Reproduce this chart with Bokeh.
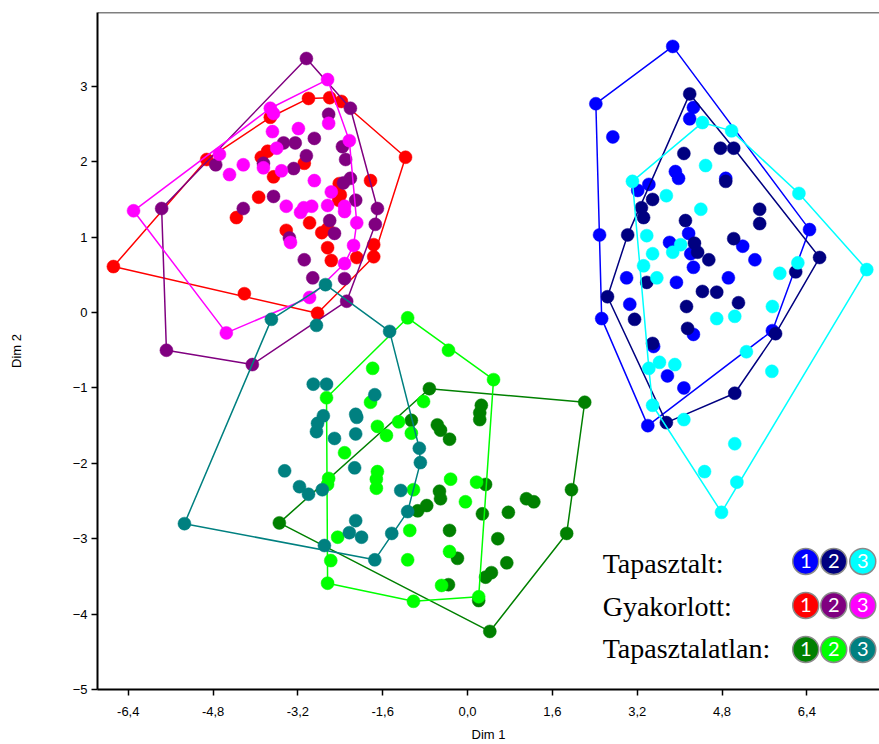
import numpy as np
from bokeh.plotting import figure
from bokeh.models import Range1d, FixedTicker, CustomJSTickFormatter, Span, Label
from bokeh.core.properties import value
from bokeh.embed import file_html
from bokeh.resources import INLINE

# ---------------- data ----------------
t1_x = [3.87, 2.42, 2.74, 4.26, 4.19, 3.92, 3.98, 4.87, 3.42, 3.21, 2.49, 4.17, 3.81, 4.21, 5.19, 5.42, 6.45, 4.26, 3.00, 3.94, 4.92, 3.06, 2.53, 4.26, 3.51, 3.77, 4.08, 3.40, 5.75]
t1_y = [3.53, 2.77, 2.33, 2.72, 2.57, 1.87, 1.78, 1.78, 1.70, 1.62, 1.03, 1.05, 0.93, 0.78, 0.88, 0.70, 1.10, 0.60, 0.46, 0.40, 0.46, 0.11, -0.08, -0.29, -0.45, -0.84, -1.00, -1.50, -0.24]

t2_x = [4.19, 4.08, 4.77, 5.02, 4.87, 3.49, 3.28, 3.32, 3.02, 4.11, 5.51, 5.51, 4.28, 4.34, 4.55, 5.02, 6.64, 6.19, 3.38, 4.43, 4.70, 5.11, 4.13, 2.64, 3.15, 4.15, 3.49, 5.81, 5.04, 3.75]
t2_y = [2.90, 2.11, 2.18, 2.18, 1.74, 1.50, 1.39, 1.26, 1.03, 1.22, 1.37, 1.18, 0.92, 0.80, 0.70, 0.98, 0.73, 0.54, 0.40, 0.28, 0.27, 0.13, 0.08, 0.21, -0.09, -0.21, -0.41, -0.28, -1.07, -1.46]

t3_x = [4.43, 4.98, 3.11, 4.49, 3.75, 4.40, 6.25, 3.38, 3.49, 4.02, 3.87, 3.32, 3.57, 7.53, 6.23, 5.89, 5.75, 4.70, 5.04, 5.26, 5.74, 3.42, 3.62, 3.91, 3.49, 4.08, 5.04, 4.47, 5.08, 4.79]
t3_y = [2.52, 2.41, 1.74, 1.95, 1.55, 1.37, 1.58, 1.02, 0.78, 0.90, 0.80, 0.62, 0.46, 0.57, 0.66, 0.52, 0.08, -0.08, -0.05, -0.52, -0.78, -0.74, -0.66, -0.69, -1.23, -1.42, -1.74, -2.11, -2.25, -2.65]

g1_x = [-3.00, -2.60, -2.38, -3.72, -4.92, -3.77, -3.89, -3.08, -3.66, -1.83, -1.17, -2.42, -2.40, -2.43, -3.94, -4.36, -2.98, -2.75, -2.64, -3.42, -2.64, -2.57, -2.09, -1.77, -1.77, -4.21, -2.83, -6.68]
g1_y = [2.84, 2.85, 2.80, 2.59, 2.03, 2.14, 2.06, 1.98, 1.80, 1.75, 2.06, 1.71, 1.56, 1.49, 1.53, 1.26, 1.19, 1.06, 1.11, 1.09, 0.86, 0.69, 0.73, 0.90, 0.74, 0.25, -0.01, 0.61]

g2_x = [-3.04, -2.21, -2.62, -3.47, -3.25, -2.89, -3.04, -3.28, -2.36, -2.30, -2.34, -2.21, -4.75, -3.85, -3.66, -4.23, -5.77, -2.11, -1.70, -1.74, -2.60, -2.51, -3.36, -3.08, -2.92, -2.32, -2.28, -5.68, -4.06]
g2_y = [3.37, 2.71, 2.63, 2.25, 2.25, 2.31, 2.08, 1.91, 2.20, 2.03, 1.72, 1.78, 1.96, 1.98, 1.54, 1.38, 1.38, 1.49, 1.38, 1.17, 1.22, 1.05, 0.99, 0.70, 0.46, 0.45, 0.15, -0.50, -0.69]

g3_x = [-2.64, -3.72, -3.66, -3.68, -3.19, -3.60, -3.85, -3.51, -4.23, -4.49, -4.68, -2.89, -2.62, -2.23, -2.57, -3.42, -3.15, -3.09, -2.94, -2.64, -2.32, -2.32, -2.09, -3.34, -2.15, -2.32, -2.98, -6.30, -4.55]
g3_y = [3.09, 2.71, 2.64, 2.40, 2.44, 2.18, 1.92, 1.88, 1.96, 1.83, 2.10, 1.75, 2.51, 2.28, 1.60, 1.41, 1.33, 1.39, 1.41, 1.42, 1.41, 1.34, 1.19, 0.93, 0.89, 0.65, 0.20, 1.35, -0.27]

u1_x = [-0.72, 2.21, -1.06, -0.57, -0.51, -0.34, 0.26, 0.23, 0.23, 0.34, -0.53, -0.51, -0.77, -0.94, 0.28, 0.77, 1.11, 1.25, 1.96, 1.87, -0.34, 0.57, -0.19, 0.74, 0.34, 0.45, -0.36, 0.21, 0.42, -3.55]
u1_y = [-1.01, -1.19, -1.43, -1.49, -1.56, -1.68, -1.23, -1.33, -1.42, -2.28, -2.37, -2.47, -2.56, -2.63, -2.67, -2.65, -2.47, -2.51, -2.35, -2.93, -2.89, -3.00, -3.26, -3.32, -3.51, -3.45, -3.61, -3.82, -4.23, -2.79]

u2_x = [-1.13, -0.36, 0.49, -1.79, -2.66, -1.83, -1.70, -1.53, -1.30, -1.06, -0.83, -2.32, -2.62, -2.64, -1.70, -1.72, -1.72, -1.02, -0.32, 0.17, -0.04, -2.45, -1.09, -0.34, -2.58, -1.13, -0.49, -2.64, -1.02, 0.21]
u2_y = [-0.07, -0.50, -0.89, -0.74, -1.13, -1.19, -1.51, -1.63, -1.45, -1.60, -1.18, -1.86, -2.20, -2.28, -2.11, -2.21, -2.33, -2.35, -2.21, -2.25, -2.51, -2.98, -2.89, -3.17, -3.29, -3.28, -3.62, -3.59, -3.83, -3.77]

u3_x = [-2.68, -3.70, -2.85, -1.47, -2.91, -2.66, -1.75, -2.72, -2.83, -2.85, -2.11, -2.09, -2.51, -2.11, -0.91, -0.89, -3.45, -3.17, -3.00, -2.74, -2.13, -1.26, -1.13, -5.34, -2.11, -2.23, -2.00, -2.70, -1.43, -1.75]
u3_y = [0.37, -0.09, -0.17, -0.25, -0.95, -0.95, -1.09, -1.37, -1.47, -1.58, -1.35, -1.39, -1.67, -1.61, -1.80, -1.99, -2.10, -2.31, -2.41, -2.35, -2.06, -2.36, -2.64, -2.80, -2.76, -2.92, -2.98, -3.09, -2.93, -3.28]

categories = ["Tapasztalt:", "Gyakorlott:", "Tapasztalatlan:"]
group_labels = ["1", "2", "3"]
colors = [["#0000FF", "#000080", "#00FFFF"],
          ["#FF0000", "#800080", "#FF00FF"],
          ["#008000", "#00FF00", "#008080"]]
series = [[(t1_x, t1_y), (t2_x, t2_y), (t3_x, t3_y)],
          [(g1_x, g1_y), (g2_x, g2_y), (g3_x, g3_y)],
          [(u1_x, u1_y), (u2_x, u2_y), (u3_x, u3_y)]]

x_ticks = [-6.4, -4.8, -3.2, -1.6, 0.0, 1.6, 3.2, 4.8, 6.4]
y_ticks = [-5, -4, -3, -2, -1, 0, 1, 2, 3]


def convex_hull(xs, ys):
    pts = sorted(set(zip(xs, ys)))

    def cross(o, a, b):
        return (a[0] - o[0]) * (b[1] - o[1]) - (a[1] - o[1]) * (b[0] - o[0])

    lower = []
    for q in pts:
        while len(lower) >= 2 and cross(lower[-2], lower[-1], q) <= 0:
            lower.pop()
        lower.append(q)
    upper = []
    for q in reversed(pts):
        while len(upper) >= 2 and cross(upper[-2], upper[-1], q) <= 0:
            upper.pop()
        upper.append(q)
    h = lower[:-1] + upper[:-1]
    h.append(h[0])
    return [q[0] for q in h], [q[1] for q in h]


# ---------------- figure ----------------
X0, X1, Y0, Y1 = -6.98, 7.77, -5.0, 3.98
p = figure(width=879, height=744, output_backend="svg", toolbar_location=None,
           x_range=Range1d(X0, X1), y_range=Range1d(Y0, Y1),
           min_border_left=97, min_border_top=12, min_border_bottom=55, min_border_right=0)
p.grid.visible = False
p.outline_line_color = None
p.background_fill_color = "white"
p.border_fill_color = "white"

for ax in (p.xaxis[0], p.yaxis[0]):
    ax.axis_line_width = 2
    ax.axis_line_color = "black"
    ax.major_tick_line_width = 1.5
    ax.major_tick_in = 0
    ax.major_tick_out = 6
    ax.minor_tick_line_color = None
    ax.major_label_text_font = "Liberation Sans"
    ax.major_label_text_font_size = "13px"
    ax.major_label_text_color = "black"
    ax.axis_label_text_font = "Liberation Sans"
    ax.axis_label_text_font_size = "13px"
    ax.axis_label_text_font_style = "normal"
    ax.axis_label_text_color = "black"

p.xaxis.ticker = FixedTicker(ticks=x_ticks)
p.xaxis.formatter = CustomJSTickFormatter(code="return tick.toFixed(1).replace('.', ',');")
p.xaxis.axis_label = "Dim 1"
p.xaxis.major_label_standoff = 11
p.xaxis.axis_label_standoff = 8

p.yaxis.ticker = FixedTicker(ticks=y_ticks)
p.yaxis.axis_label = "Dim 2"
p.yaxis.major_label_standoff = 4
p.yaxis.axis_label_standoff = 46

p.add_layout(Span(location=Y1, dimension="width", line_color="black", line_width=1.5))

for ci in range(3):
    for gi in range(3):
        xs, ys = series[ci][gi]
        col = colors[ci][gi]
        hx, hy = convex_hull(xs, ys)
        p.line(hx, hy, line_color=col, line_width=1.5)
        p.scatter(xs, ys, size=13, fill_color=col, line_color=col, line_width=0.5)

# ---------------- legend (text + numbered discs) ----------------
def px_x(px):
    return X0 + (px - 97.0) / 53.0


def px_y(py):
    return Y1 - (py - 12.0) / 75.4


row_circle_py = [561, 605, 649]
row_text_py = [563, 606, 648]
circle_px = [805, 833, 862]

for ci in range(3):
    p.add_layout(Label(x=px_x(602), y=px_y(row_text_py[ci]), text=categories[ci],
                       text_font="Liberation Serif", text_font_size="28px",
                       text_color="black", text_baseline="alphabetic", text_align="left"))
    lx = [px_x(c) for c in circle_px]
    ly = [px_y(row_circle_py[ci])] * 3
    p.scatter(lx, ly, size=26, fill_color=colors[ci], line_color="#8a8a8a", line_width=1.5)
    p.text(lx, ly, text=group_labels, text_color="white", text_font=value("Lato"),
           text_font_size="20px", text_align="center", text_baseline="middle")

open("out.html", "w").write(file_html(p, INLINE))
